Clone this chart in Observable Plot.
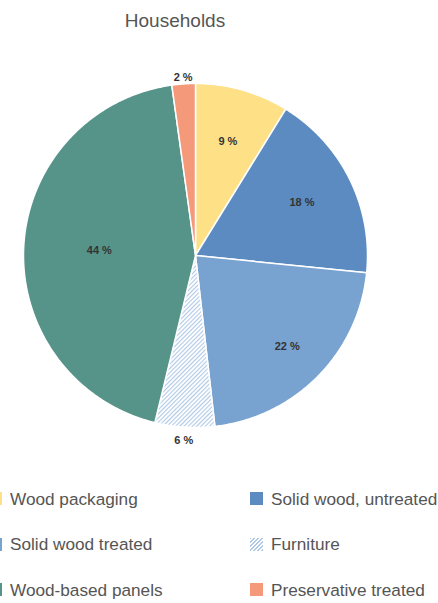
<!DOCTYPE html>
<html><head><meta charset="utf-8">
<script src="https://cdn.jsdelivr.net/npm/d3@7"></script>
<script src="https://cdn.jsdelivr.net/npm/@observablehq/plot@0.6"></script>
<style>
body{margin:0;background:#fff;font-family:"Liberation Sans",Arial,Helvetica,sans-serif;}
#wrap{position:relative;width:438px;height:603px;overflow:hidden;}
#title{position:absolute;left:0;top:10px;width:350px;text-align:center;font-size:19px;line-height:22px;color:#555;}
#chart{position:absolute;left:0;top:40px;}
.leg{position:absolute;font-size:17.2px;line-height:20px;color:#555;white-space:nowrap;}
.sw{position:absolute;width:13px;height:13px;}
</style></head>
<body>
<div id="wrap">
  <div id="title">Households</div>
  <div id="chart"></div>
  <div id="legend"></div>
</div>
<script>
// ---- data ----
const categories = ["Wood packaging", "Solid wood, untreated", "Solid wood treated", "Furniture", "Wood-based panels", "Preservative treated"];
const shares = [8.8, 17.8, 21.6, 5.6, 44.0, 2.2];
const labels = ["9 %", "18 %", "22 %", "6 %", "44 %", "2 %"];

// ---- style ----
const colors = ["#fee086", "#5b8bc0", "#78a2cf", "url(#hatch)", "#569489", "#f5997b"];
const legendCss = ["#fee086", "#5b8bc0", "#78a2cf", "repeating-linear-gradient(135deg,#b0c8e6 0 1px,#fff 1px 2.8px)", "#569489", "#f5997b"];
const labelRadius = [0.69, 0.69, 0.75, 1.08, 0.56, 1.04];

const total = d3.sum(shares);
let acc = 0;
const slices = categories.map((c, i) => {
  const a0 = acc / total * 2 * Math.PI;
  acc += shares[i];
  const a1 = acc / total * 2 * Math.PI;
  const ring = [[0, 0]];
  const n = Math.max(2, Math.ceil((a1 - a0) / (Math.PI / 360)));
  for (let k = 0; k <= n; k++) {
    const a = a0 + (a1 - a0) * k / n;
    ring.push([Math.sin(a), -Math.cos(a)]);
  }
  ring.push([0, 0]);
  const am = (a0 + a1) / 2;
  return {
    category: c, label: labels[i],
    lx: Math.sin(am) * labelRadius[i], ly: -Math.cos(am) * labelRadius[i],
    feature: {type: "Feature", properties: {category: c}, geometry: {type: "Polygon", coordinates: [ring]}}
  };
});

const svg = Plot.plot({
  width: 438, height: 430,
  marginLeft: 23, marginRight: 71, marginTop: 43, marginBottom: 43,
  style: {fontFamily: "Liberation Sans, Arial, sans-serif", background: "transparent", overflow: "visible"},
  projection: {type: "identity", domain: {type: "MultiPoint", coordinates: [[-1, -1], [1, 1]]}, clip: false},
  color: {domain: categories, range: colors},
  marks: [
    Plot.geo(slices.map(d => d.feature), {fill: d => d.properties.category, stroke: "white", strokeWidth: 1.5, clip: false}),
    Plot.text(slices, {x: "lx", y: "ly", text: "label", fontWeight: "bold", fontSize: 11, fill: "#333", clip: false})
  ]
});

const s = d3.select(svg);
const defs = s.insert("defs", ":first-child");
const pat = defs.append("pattern").attr("id", "hatch").attr("patternUnits", "userSpaceOnUse")
  .attr("width", 3).attr("height", 3).attr("patternTransform", "rotate(45)");
pat.append("rect").attr("width", 3).attr("height", 3).attr("fill", "#fff");
pat.append("rect").attr("width", 1.1).attr("height", 3).attr("fill", "#b0c8e6");
document.getElementById("chart").appendChild(svg);

// legend
const leg = document.getElementById("legend");
const rowY = [498.5, 544, 589.5];
const colX = [-11, 250];
categories.forEach((c, i) => {
  const col = i % 2, row = Math.floor(i / 2);
  const sw = document.createElement("div");
  sw.className = "sw";
  sw.style.left = colX[col] + "px";
  sw.style.top = (rowY[row] - 6.5) + "px";
  sw.style.background = legendCss[i];
  leg.appendChild(sw);
  const t = document.createElement("div");
  t.className = "leg";
  t.style.left = (colX[col] + 21) + "px";
  t.style.top = (rowY[row] - 10) + "px";
  t.textContent = c;
  leg.appendChild(t);
});
</script>
</body></html>
